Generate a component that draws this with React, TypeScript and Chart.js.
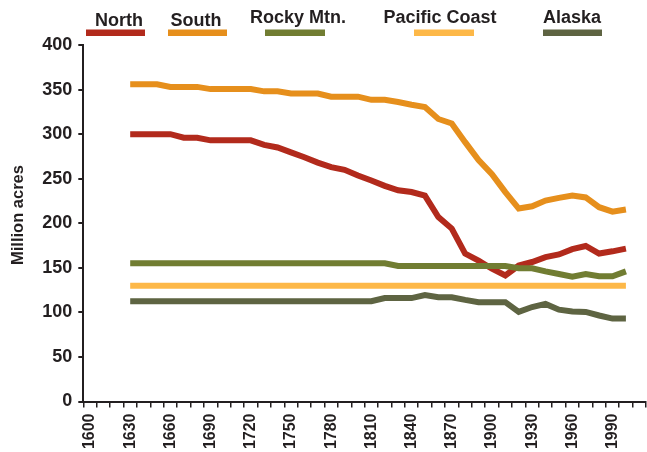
import React, { useEffect, useRef } from 'react';
import { Chart, registerables } from 'chart.js';

Chart.register(...registerables);

// ---- data ----
const axisYears = [
  1600, 1610, 1620, 1630, 1640, 1650, 1660, 1670, 1680, 1690, 1700, 1710, 1720, 1730,
  1740, 1750, 1760, 1770, 1780, 1790, 1800, 1810, 1820, 1830, 1840, 1850, 1860, 1870,
  1880, 1890, 1900, 1910, 1920, 1930, 1940, 1950, 1960, 1970, 1980, 1990, 2000, 2010,
];
const xTickLabels = ['1600', '1630', '1660', '1690', '1720', '1750', '1780', '1810', '1840', '1870', '1900', '1930', '1960', '1990'];
const yTickValues = [0, 50, 100, 150, 200, 250, 300, 350, 400];

const dataYears = [
  1630, 1640, 1650, 1660, 1670, 1680, 1690, 1700, 1710, 1720, 1730, 1740, 1750, 1760,
  1770, 1780, 1790, 1800, 1810, 1820, 1830, 1840, 1850, 1860, 1870, 1880, 1890, 1900,
  1910, 1920, 1930, 1940, 1950, 1960, 1970, 1980, 1990, 2000,
];
const north = [
  300, 300, 300, 300, 296, 296, 293, 293, 293, 293, 288, 285, 279.5, 274,
  268, 263, 260, 253.5, 248, 242, 237, 235, 231, 207, 194, 166, 158, 149,
  141.5, 152.5, 156.5, 162, 165, 171, 174.5, 166, 168.5, 171.5,
];
const south = [
  356, 356, 356, 353, 353, 353, 350.5, 350.5, 350.5, 350.5, 348, 348, 345.5, 345.5,
  345.5, 342, 342, 342, 338.5, 338.5, 336, 333, 330.5, 317, 312, 291, 271, 255,
  235, 216.5, 219, 225.5, 228.5, 231, 229, 218, 213, 215.5,
];
const rockyMtn = [
  155, 155, 155, 155, 155, 155, 155, 155, 155, 155, 155, 155, 155, 155,
  155, 155, 155, 155, 155, 155, 152, 152, 152, 152, 152, 152, 152, 152,
  152, 149.5, 149.5, 146, 143, 140, 143, 140.5, 140.5, 146,
];
const pacificCoast = [
  130, 130, 130, 130, 130, 130, 130, 130, 130, 130, 130, 130, 130, 130,
  130, 130, 130, 130, 130, 130, 130, 130, 130, 130, 130, 130, 130, 130,
  130, 130, 130, 130, 130, 130, 130, 130, 130, 130,
];
const alaska = [
  112.5, 112.5, 112.5, 112.5, 112.5, 112.5, 112.5, 112.5, 112.5, 112.5, 112.5, 112.5, 112.5, 112.5,
  112.5, 112.5, 112.5, 112.5, 112.5, 116, 116, 116, 119.5, 117, 117, 114, 111.5, 111.5,
  111.5, 100.5, 106, 109.5, 103, 101, 100.5, 96.5, 93, 93,
];

const seriesNames = ['North', 'South', 'Rocky Mtn.', 'Pacific Coast', 'Alaska'];
const seriesValues = [north, south, rockyMtn, pacificCoast, alaska];
const seriesColors = ['#B22A1C', '#E68F1C', '#717D32', '#FDB848', '#5E6442'];
const yAxisTitle = 'Million acres';

// ---- styling ----
const TEXT = '#231F20';
const FONT = '"Liberation Sans", Arial, Helvetica, sans-serif';
// legend label centers / bar spans (layout only)
const legendLayout = [
  { tx: 119, ty: 26, bx0: 86, bx1: 145 },
  { tx: 196, ty: 26, bx0: 168, bx1: 227 },
  { tx: 298, ty: 23, bx0: 265, bx1: 325 },
  { tx: 440, ty: 23, bx0: 414, bx1: 474 },
  { tx: 572, ty: 23, bx0: 543, bx1: 602 },
];

const overlayPlugin = {
  id: 'overlay',
  afterDraw(chart: any) {
    const ctx = chart.ctx as CanvasRenderingContext2D;
    ctx.save();
    ctx.font = `bold 18px ${FONT}`;
    ctx.textAlign = 'center';
    ctx.textBaseline = 'alphabetic';
    seriesNames.forEach((name, i) => {
      const L = legendLayout[i];
      ctx.fillStyle = TEXT;
      ctx.fillText(name, L.tx, L.ty);
      ctx.fillStyle = seriesColors[i];
      ctx.fillRect(L.bx0, 29.5, L.bx1 - L.bx0, 6.5);
    });
    // y-axis title
    ctx.translate(18.5, 215);
    ctx.rotate(-Math.PI / 2);
    ctx.font = `bold 16.5px ${FONT}`;
    ctx.fillStyle = TEXT;
    ctx.textAlign = 'center';
    ctx.textBaseline = 'middle';
    ctx.fillText(yAxisTitle, 0, 0);
    ctx.restore();
  },
};

export default function App() {
  const canvasRef = useRef<HTMLCanvasElement | null>(null);

  useEffect(() => {
    if (!canvasRef.current) return;
    const datasets = seriesNames.map((name, i) => ({
      label: name,
      data: dataYears.map((yr, j) => ({ x: String(yr), y: seriesValues[i][j] })),
      borderColor: seriesColors[i],
      backgroundColor: seriesColors[i],
      borderWidth: 6,
      pointRadius: 0,
      pointHoverRadius: 0,
      tension: 0,
      fill: false,
      borderCapStyle: 'butt' as const,
      borderJoinStyle: 'miter' as const,
      order: name === 'Rocky Mtn.' ? 0 : 1,
    }));

    const chart = new Chart(canvasRef.current, {
      type: 'line',
      data: { labels: axisYears.map(String), datasets },
      plugins: [overlayPlugin],
      options: {
        responsive: false,
        animation: false,
        devicePixelRatio: 1,
        layout: { padding: { top: 45, right: 1, left: 0, bottom: 0 } },
        plugins: { legend: { display: false }, tooltip: { enabled: false }, title: { display: false } },
        scales: {
          x: {
            type: 'category',
            offset: true,
            grid: { offset: true, drawOnChartArea: false, drawTicks: true, tickLength: 6, color: TEXT, lineWidth: 1.5 },
            border: { display: true, color: TEXT, width: 2 },
            ticks: {
              autoSkip: false,
              minRotation: 90,
              maxRotation: 90,
              padding: 6,
              color: TEXT,
              font: { family: FONT, size: 16, weight: 'bold' },
              callback: (_v: any, idx: number) => {
                const s = String(axisYears[idx]);
                return xTickLabels.includes(s) ? s : '';
              },
            },
            afterFit: (scale: any) => {
              scale.height = 50.5;
              scale.paddingLeft = 0;
              scale.paddingRight = 0;
            },
          },
          y: {
            min: 0,
            max: 400,
            afterBuildTicks: (scale: any) => {
              scale.ticks = yTickValues.map((v) => ({ value: v }));
            },
            grid: { drawOnChartArea: false, drawTicks: true, tickLength: 5, color: TEXT, lineWidth: 2 },
            border: { display: true, color: TEXT, width: 2 },
            ticks: {
              padding: 6,
              color: TEXT,
              font: { family: FONT, size: 18, weight: 'bold' },
            },
            afterFit: (scale: any) => {
              scale.width = 83.3;
            },
          },
        },
      } as any,
    });
    return () => chart.destroy();
  }, []);

  return (
    <div style={{ position: 'fixed', left: 0, top: 0, width: 647, height: 452, background: '#fff' }}>
      <canvas ref={canvasRef} width={647} height={452} style={{ width: 647, height: 452, display: 'block' }} />
    </div>
  );
}
